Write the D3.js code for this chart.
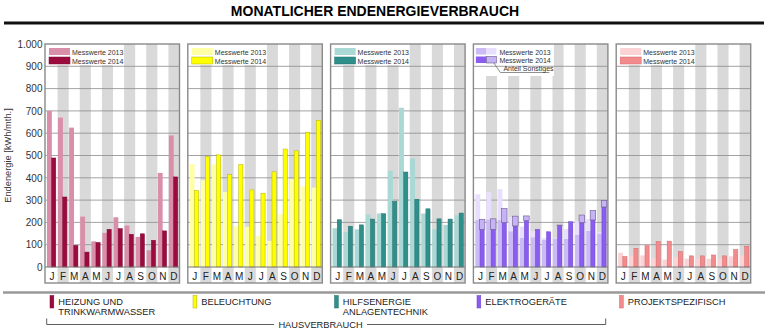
<!DOCTYPE html>
<html>
<head>
<meta charset="utf-8">
<script src="https://cdn.jsdelivr.net/npm/d3@7/dist/d3.min.js"></script>
<style>
body { margin: 0; background: #fff; }
svg { display: block; font-family: "Liberation Sans", Arial, sans-serif; }
</style>
</head>
<body>
<svg id="chart" width="768" height="332"></svg>
<script>
'use strict';

// Monatswerte in kWh
var months = ['J', 'F', 'M', 'A', 'M', 'J', 'J', 'A', 'S', 'O', 'N', 'D'];
var yTicks = [0, 100, 200, 300, 400, 500, 600, 700, 800, 900, 1000];

var heizung2013 = [700, 670, 625, 226, 115, 153, 223, 186, 135, 75, 422, 590];
var heizung2014 = [490, 315, 98, 68, 111, 170, 173, 148, 150, 121, 163, 405];

var beleuchtung2013 = [461, 389, 460, 337, 183, 180, 138, 117, 237, 394, 362, 356];
var beleuchtung2014 = [344, 497, 504, 415, 460, 347, 332, 428, 530, 522, 605, 659];

var hilfsenergie2013 = [174, 157, 169, 235, 240, 431, 714, 487, 240, 169, 189, 232];
var hilfsenergie2014 = [213, 184, 190, 216, 240, 295, 427, 305, 262, 217, 216, 243];

// Elektrogeräte: Grundlast + Anteil Sonstiges
var elektro2013 = [211, 213, 212, 160, 130, 133, 122, 127, 127, 144, 163, 150];
var sonstiges2013 = [115, 124, 137, 65, 51, 28, 8, 3, 43, 64, 52, 7];
var elektro2014 = [169, 169, 199, 184, 208, 170, 159, 186, 204, 199, 211, 269];
var sonstiges2014 = [45, 47, 63, 44, 21, 0, 0, 2, 0, 34, 42, 30];

var projekt2013 = [64, 52, 52, 40, 33, 45, 37, 37, 37, 37, 48, 51];
var projekt2014 = [48, 85, 97, 115, 117, 70, 51, 51, 55, 51, 79, 94];

var categories = [
    ['HEIZUNG UND', 'TRINKWARMWASSER'],
    ['BELEUCHTUNG'],
    ['HILFSENERGIE', 'ANLAGENTECHNIK'],
    ['ELEKTROGERÄTE'],
    ['PROJEKTSPEZIFISCH']
];

var panels = [
    { a: heizung2013, b: heizung2014, ca: '#d98fa9', cb: '#9c0b3d', sb: '#7d0830' },
    { a: beleuchtung2013, b: beleuchtung2014, ca: '#ffffa6', cb: '#ffff00', sb: '#b3b300' },
    { a: hilfsenergie2013, b: hilfsenergie2014, ca: '#a9d8d5', cb: '#2f8f8b', sb: '#236f6b' },
    { a: elektro2013, b: elektro2014, ca: '#cbbaf6', cb: '#8a5cf0', sb: '#6a42c8',
      aTop: sonstiges2013, bTop: sonstiges2014, caTop: '#e8defd', cbTop: '#c6b3f5' },
    { a: projekt2013, b: projekt2014, ca: '#fcd3d5', cb: '#f38b8d', sb: '#d36668' }
];

var svg = d3.select('#chart');

var PANEL_LEFT = 45, PANEL_STEP = 142.8, PANEL_WIDTH = 134.5;
var PLOT_TOP = 44, PLOT_BOTTOM = 267, LABEL_BOTTOM = 283;
var GREY = '#d9d9d9', FRAME = '#8a8a8a';

var y = d3.scaleLinear().domain([0, 1000]).range([PLOT_BOTTOM, PLOT_TOP]);
var de = d3.formatLocale({ decimal: ',', thousands: '.', grouping: [3], currency: ['', ' €'] });

// Title
svg.append('text')
    .attr('x', 375).attr('y', 16)
    .attr('text-anchor', 'middle')
    .style('font-size', '14px').style('font-weight', 'bold')
    .text('MONATLICHER ENDENERGIEVERBRAUCH');
svg.append('line')
    .attr('x1', 4).attr('x2', 764).attr('y1', 23).attr('y2', 23)
    .style('stroke', '#111').style('stroke-width', 3);

// y axis
var yAxis = d3.axisLeft(y)
    .tickValues(yTicks)
    .tickSize(0)
    .tickPadding(2)
    .tickFormat(de.format(','));
var yAxisEl = svg.append('g')
    .attr('transform', 'translate(' + (PANEL_LEFT - 0.5) + ',0)')
    .call(yAxis);
yAxisEl.select('.domain').remove();
yAxisEl.selectAll('text')
    .style('font-size', '10px')
    .style('fill', '#333')
    .style('font-family', '"Liberation Sans", Arial, sans-serif');

svg.append('text')
    .attr('transform', 'translate(11,' + ((PLOT_TOP + PLOT_BOTTOM) / 2) + ') rotate(-90)')
    .attr('text-anchor', 'middle')
    .style('font-size', '9.3px').style('fill', '#333')
    .text('Endenergie [kWh/mth.]');

panels.forEach(function (p, pi) {
    var left = PANEL_LEFT + pi * PANEL_STEP;
    var right = left + PANEL_WIDTH;
    var g = svg.append('g');

    var x = d3.scaleBand()
        .domain(d3.range(months.length))
        .range([left + 1.5, right]);
    var bw = x.bandwidth();

    // alternating grey month columns, down through the label row
    g.selectAll('rect.col')
        .data(months.map(function (m, i) { return i; }).filter(function (i) { return i % 2 === 1; }))
        .enter().append('rect')
        .attr('class', 'col')
        .attr('x', function (i) { return x(i); })
        .attr('y', PLOT_TOP)
        .attr('width', bw)
        .attr('height', LABEL_BOTTOM - PLOT_TOP)
        .style('fill', GREY);

    // legend background
    var isElektro = !!p.aTop;
    g.append('rect')
        .attr('x', left + 0.5)
        .attr('y', PLOT_TOP)
        .attr('width', isElektro ? 80 : 78)
        .attr('height', isElektro ? 32 : 21)
        .style('fill', '#fff');

    // gridlines
    g.selectAll('line.grid')
        .data(yTicks.slice(1, -1))
        .enter().append('line')
        .attr('class', 'grid')
        .attr('x1', left).attr('x2', right)
        .attr('y1', function (d) { return y(d); })
        .attr('y2', function (d) { return y(d); })
        .style('stroke', '#8c8c8c')
        .style('stroke-width', 0.8);

    // bars 2013
    g.selectAll('rect.a')
        .data(p.a)
        .enter().append('rect')
        .attr('class', 'a')
        .attr('x', function (d, i) { return x(i) + bw * 0.04; })
        .attr('y', function (d) { return y(d); })
        .attr('width', bw * 0.44)
        .attr('height', function (d) { return y(0) - y(d); })
        .style('fill', p.ca);
    if (isElektro) {
        g.selectAll('rect.atop')
            .data(p.aTop)
            .enter().append('rect')
            .attr('class', 'atop')
            .attr('x', function (d, i) { return x(i) + bw * 0.04; })
            .attr('y', function (d, i) { return y(p.a[i] + d); })
            .attr('width', bw * 0.44)
            .attr('height', function (d, i) { return y(p.a[i]) - y(p.a[i] + d); })
            .style('fill', p.caTop);
    }

    // bars 2014
    g.selectAll('rect.b')
        .data(p.b)
        .enter().append('rect')
        .attr('class', 'b')
        .attr('x', function (d, i) { return x(i) + bw * 0.44 + 0.25; })
        .attr('y', function (d) { return y(d) + 0.25; })
        .attr('width', bw * 0.42 - 0.5)
        .attr('height', function (d) { return y(0) - y(d) - 0.25; })
        .style('fill', p.cb)
        .style('stroke', p.sb)
        .style('stroke-width', 0.5);
    if (isElektro) {
        g.selectAll('rect.btop')
            .data(p.bTop.map(function (d, i) { return [i, d]; }).filter(function (d) { return d[1] > 0; }))
            .enter().append('rect')
            .attr('class', 'btop')
            .attr('x', function (d) { return x(d[0]) + bw * 0.40; })
            .attr('y', function (d) { return y(p.b[d[0]] + d[1]); })
            .attr('width', bw * 0.50)
            .attr('height', function (d) { return y(p.b[d[0]]) - y(p.b[d[0]] + d[1]); })
            .style('fill', p.cbTop)
            .style('stroke', '#6a5a8c')
            .style('stroke-width', 0.6);
    }

    // zero line and frame
    g.append('line')
        .attr('x1', left).attr('x2', right)
        .attr('y1', y(0)).attr('y2', y(0))
        .style('stroke', '#777').style('stroke-width', 1);
    g.append('rect')
        .attr('x', left).attr('y', PLOT_TOP)
        .attr('width', PANEL_WIDTH).attr('height', LABEL_BOTTOM - PLOT_TOP)
        .style('fill', 'none')
        .style('stroke', FRAME)
        .style('stroke-width', 1.4);

    // month labels
    g.selectAll('text.month')
        .data(months)
        .enter().append('text')
        .attr('class', 'month')
        .attr('x', function (d, i) { return x(i) + bw / 2; })
        .attr('y', 279.5)
        .attr('text-anchor', 'middle')
        .style('font-size', '10px')
        .style('fill', '#222')
        .text(function (d) { return d; });

    // legend
    var lg = g.append('g').style('font-size', '7px').style('fill', '#333');
    if (!isElektro) {
        lg.append('rect').attr('x', left + 4).attr('y', 48).attr('width', 21).attr('height', 7)
            .style('fill', p.ca);
        lg.append('rect').attr('x', left + 4).attr('y', 57).attr('width', 21).attr('height', 7)
            .style('fill', p.cb).style('stroke', p.sb).style('stroke-width', 0.5);
        lg.append('text').attr('x', left + 27).attr('y', 54.5).text('Messwerte 2013');
        lg.append('text').attr('x', left + 27).attr('y', 63.5).text('Messwerte 2014');
    } else {
        lg.append('rect').attr('x', left + 2.5).attr('y', 48).attr('width', 10.5).attr('height', 6.5)
            .style('fill', p.ca);
        lg.append('rect').attr('x', left + 13).attr('y', 48).attr('width', 10).attr('height', 6.5)
            .style('fill', p.caTop);
        lg.append('rect').attr('x', left + 2.5).attr('y', 56.5).attr('width', 10.5).attr('height', 6.5)
            .style('fill', p.cb);
        lg.append('rect').attr('x', left + 13).attr('y', 56.5).attr('width', 10).attr('height', 6.5)
            .style('fill', p.cbTop).style('stroke', '#6a5a8c').style('stroke-width', 0.6);
        lg.append('text').attr('x', left + 26).attr('y', 54.5).text('Messwerte 2013');
        lg.append('text').attr('x', left + 26).attr('y', 63).text('Messwerte 2014');
        lg.append('text').attr('x', left + 30).attr('y', 71).text('Anteil Sonstiges');
        lg.append('polyline')
            .attr('points', [[left + 20.5, 63], [left + 27, 72.5], [left + 76, 72.5]].join(' '))
            .style('fill', 'none').style('stroke', '#444').style('stroke-width', 0.6);
    }
});

// category legend below the charts
svg.append('line')
    .attr('x1', 3).attr('x2', 765).attr('y1', 292.5).attr('y2', 292.5)
    .style('stroke', '#999').style('stroke-width', 2.5);

var legendX = [50, 193, 334.5, 477, 619.5];
var legendG = svg.append('g');
categories.forEach(function (lines, i) {
    var p = panels[i];
    legendG.append('rect')
        .attr('x', legendX[i]).attr('y', 295.5)
        .attr('width', 3.8).attr('height', 12.5)
        .style('fill', p.cb).style('stroke', p.sb).style('stroke-width', 0.5);
    lines.forEach(function (t, j) {
        legendG.append('text')
            .attr('x', legendX[i] + 8.3)
            .attr('y', 305.3 + j * 9.4)
            .style('font-size', '9.3px').style('fill', '#222')
            .text(t);
    });
});

// bracket over the household categories
svg.append('path')
    .attr('d', 'M46.7,318.5V324.5H274M367,324.5H605.7V318.5')
    .style('fill', 'none').style('stroke', '#333').style('stroke-width', 0.8);
svg.append('text')
    .attr('x', 320.5).attr('y', 327.8)
    .attr('text-anchor', 'middle')
    .style('font-size', '9.3px').style('fill', '#222')
    .text('HAUSVERBRAUCH');
</script>
</body>
</html>
